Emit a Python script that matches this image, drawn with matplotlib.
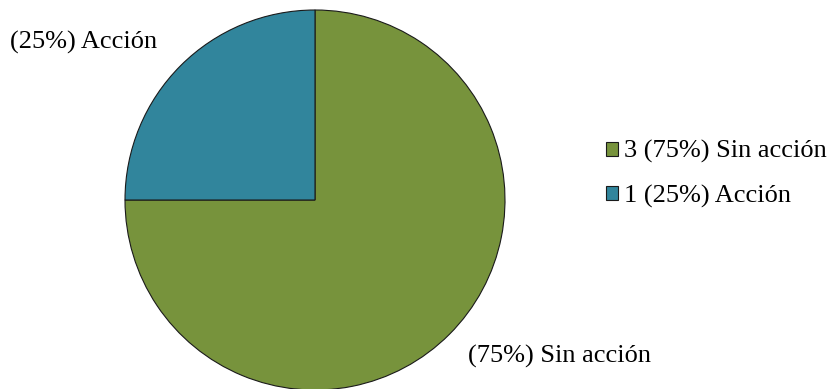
import matplotlib.pyplot as plt

# data
labels = ["Sin acción", "Acción"]
counts = [3, 1]
percents = [75, 25]
colors = ["#77933C", "#31859C"]

plt.rcParams['font.family'] = ['Liberation Serif', 'DejaVu Serif']

fig = plt.figure(figsize=(8.35, 3.89), dpi=100)
W, H = 835, 389
cx, cy, r = 315, 200, 190
ax = fig.add_axes([(cx - r) / W, (H - cy - r) / H, 2 * r / W, 2 * r / H])

wedges, _ = ax.pie(counts, colors=colors, startangle=90, counterclock=False,
                   radius=1, wedgeprops=dict(edgecolor="#1a1a1a", linewidth=0.8))
ax.set_xlim(-1, 1)
ax.set_ylim(-1, 1)
ax.set_aspect('equal')
ax.axis('off')

# slice labels
fs = 19
ax.text(-1.605, 0.83, f"({percents[1]}%) {labels[1]}", ha='left', va='center',
        fontsize=fs, clip_on=False)
ax.text(0.805, -0.826, f"({percents[0]}%) {labels[0]}", ha='left', va='center',
        fontsize=fs, clip_on=False)

leg_labels = [f"{c} ({p}%) {l}" for c, p, l in zip(counts, percents, labels)]
fig.legend(wedges, leg_labels, loc='center left',
           bbox_to_anchor=(606 / W, 1 - 174 / H), frameon=False,
           borderpad=0, borderaxespad=0,
           fontsize=fs, handlelength=0.45, handleheight=0.45, handletextpad=0.25,
           labelspacing=0.8)

fig.savefig("out.png", dpi=100)
